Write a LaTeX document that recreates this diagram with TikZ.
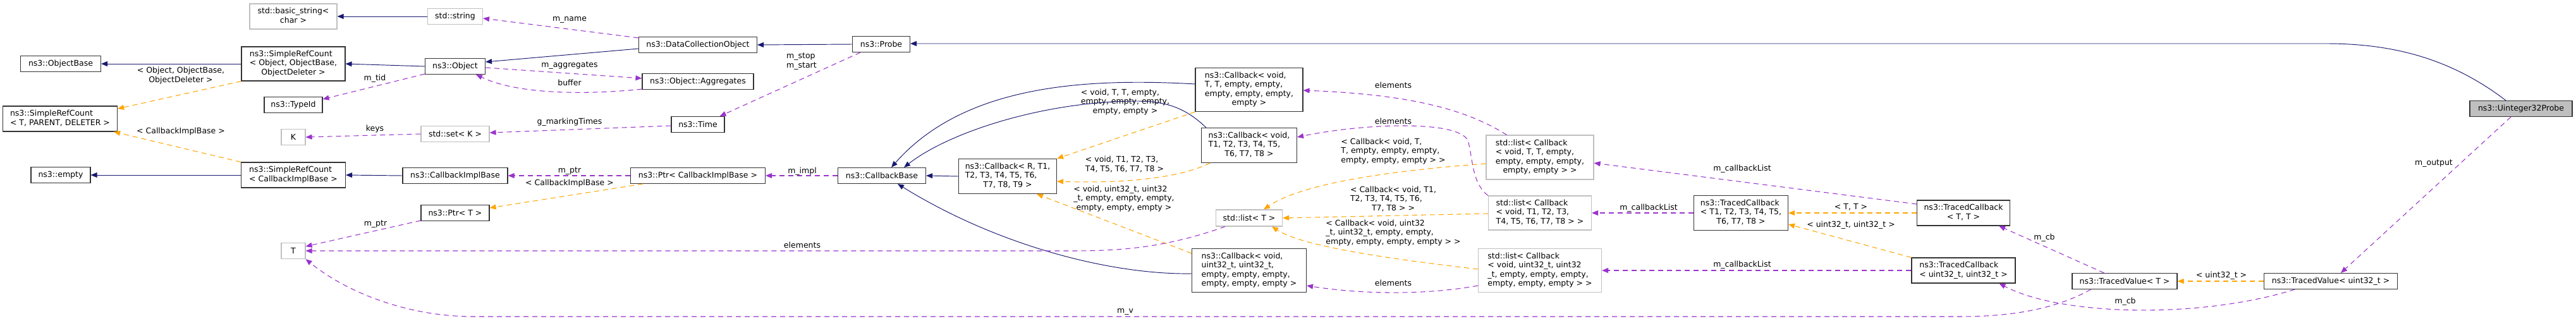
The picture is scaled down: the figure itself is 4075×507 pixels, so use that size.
\documentclass[tikz,border=0pt]{standalone}
\usepackage{fontspec}
\setmainfont{DejaVu Sans}
\usetikzlibrary{arrows.meta,calc}
\definecolor{inhc}{HTML}{191970}
\definecolor{tplc}{HTML}{FFA500}
\definecolor{usec}{HTML}{9A32CD}
\definecolor{grayb}{HTML}{BFBFBF}
\newcommand{\dlab}[2]{\begin{tabular}{@{}l@{}}#1\\\multicolumn{1}{@{}c@{}}{#2}\end{tabular}}
\begin{document}
\begin{tikzpicture}[x=1pt,y=-1pt,
  every node/.style={font=\fontsize{12.5pt}{14.3pt}\selectfont, inner sep=0pt},
  cbox/.style args={#1/#2}{draw=black!80, fill=white, line width=1.1pt, minimum width=#1pt, minimum height=#2pt},
  gbox/.style args={#1/#2}{draw=grayb, fill=white, line width=1.1pt, minimum width=#1pt, minimum height=#2pt},
  tipf/.style={-{Triangle[length=10pt,width=8pt]}},
  inh/.style={draw=inhc, line width=0.95pt, tipf},
  tpl/.style={draw=tplc, line width=1.05pt, dash pattern=on 8pt off 6pt, tipf},
  use/.style={draw=usec, line width=1.05pt, dash pattern=on 8pt off 6pt, tipf},
  lbl/.style={}
]
\fill[white] (0,0) rectangle (4075,507);
\useasboundingbox (0,0) rectangle (4075,507);

% ---- class nodes
\node[cbox=127/25] (objbase) at (96,101) {ns3::ObjectBase};
\node[cbox=164/54] (srcobj) at (464,101) {\dlab{ns3::SimpleRefCount\\< Object, ObjectBase,}{ObjectDeleter >}};
\node[cbox=92/25] (typeid) at (464,166) {ns3::TypeId};
\node[cbox=181/40] (srctpd) at (95,188) {\dlab{ns3::SimpleRefCount}{< T, PARENT, DELETER >}};
\node[cbox=94/25] (empty) at (96,277) {ns3::empty};
\node[cbox=165/40] (srccib) at (464,277) {\dlab{ns3::SimpleRefCount}{< CallbackImplBase >}};
\node[cbox=95/25] (object) at (720,105) {ns3::Object};
\node[cbox=108/25] (ptrt) at (720,337) {ns3::Ptr< T >};
\node[cbox=166/25] (cib) at (720,278) {ns3::CallbackImplBase};
\node[cbox=187/25] (dco) at (1104,71) {ns3::DataCollectionObject};
\node[cbox=176/25] (aggr) at (1104,129) {ns3::Object::Aggregates};
\node[cbox=84/25] (time) at (1104,197) {ns3::Time};
\node[cbox=213/25] (ptrcib) at (1104,278) {ns3::Ptr< CallbackImplBase >};
\node[cbox=91/25] (probe) at (1394,70) {ns3::Probe};
\node[cbox=139/25] (cbbase) at (1395,278) {ns3::CallbackBase};
\node[cbox=155/55] (cbr) at (1594,279) {\dlab{ns3::Callback< R, T1,\\T2, T3, T4, T5, T6,}{T7, T8, T9 >}};
\node[cbox=170/69] (cbvtt) at (1976,142) {\dlab{ns3::Callback< void,\\T, T, empty, empty,\\empty, empty, empty,}{empty >}};
\node[cbox=151/55] (cbv18) at (1976,230) {\dlab{ns3::Callback< void,\\T1, T2, T3, T4, T5,}{T6, T7, T8 >}};
\node[cbox=181/69] (cbvu) at (1976,428) {\dlab{ns3::Callback< void,\\uint32\_t, uint32\_t,\\empty, empty, empty,}{empty, empty, empty >}};
\node[cbox=149/55] (tc18) at (2754,337) {\dlab{ns3::TracedCallback\\< T1, T2, T3, T4, T5,}{T6, T7, T8 >}};
\node[cbox=147/40] (tctt) at (3106,337) {\dlab{ns3::TracedCallback}{< T, T >}};
\node[cbox=164/40] (tcuu) at (3106,428) {\dlab{ns3::TracedCallback}{< uint32\_t, uint32\_t >}};
\node[cbox=166/25] (tvt) at (3361,445) {ns3::TracedValue< T >};
\node[cbox=211/25] (tvu) at (3687,445) {ns3::TracedValue< uint32\_t >};
\node[cbox=162/25, fill=grayb] (u32probe) at (3988,172) {ns3::Uinteger32Probe};

\node[gbox=138/40] (bstr) at (464,26) {\dlab{std::basic\_string<}{char >}};
\node[gbox=87/25] (stdstring) at (720,26) {std::string};
\node[gbox=38/25] (K) at (464,217) {K};
\node[gbox=38/25] (T) at (464,397) {T};
\node[gbox=108/25] (stdset) at (720,212) {std::set< K >};
\node[gbox=105/26] (listt) at (1976,345) {std::list< T >};
\node[gbox=170/70] (listtt) at (2436,249) {\dlab{std::list< Callback\\< void, T, T, empty,\\empty, empty, empty,}{empty, empty > >}};
\node[gbox=163/54] (list18) at (2436,337) {\dlab{std::list< Callback\\< void, T1, T2, T3,}{T4, T5, T6, T7, T8 > >}};
\node[gbox=195/69] (listu) at (2436,428) {\dlab{std::list< Callback\\< void, uint32\_t, uint32\\\_t, empty, empty, empty,}{empty, empty, empty > >}};

% ---- edge labels
\node[lbl] (l1) at (286,120) {\dlab{< Object, ObjectBase,}{ObjectDeleter >}};
\node[lbl] (l2) at (593,124) {m\_tid};
\node[lbl] (l3) at (286,208) {< CallbackImplBase >};
\node[lbl] (l4) at (593,204) {keys};
\node[lbl] (l5) at (594,355) {m\_ptr};
\node[lbl] (l6) at (901,31) {m\_name};
\node[lbl] (l7) at (901,104) {m\_aggregates};
\node[lbl] (l8) at (901,131) {buffer};
\node[lbl] (l9) at (901,193) {g\_markingTimes};
\node[lbl] (l10) at (1268,97) {\dlab{m\_stop}{m\_start}};
\node[lbl] (l11) at (901,271) {m\_ptr};
\node[lbl] (l12) at (901,290) {< CallbackImplBase >};
\node[lbl] (l13) at (1269,271) {m\_impl};
\node[lbl] (l14) at (1269,388) {elements};
\node[lbl] (l15) at (1780,162) {\dlab{< void, T, T, empty,\\empty, empty, empty,}{empty, empty >}};
\node[lbl] (l16) at (1779,261) {\dlab{< void, T1, T2, T3,}{T4, T5, T6, T7, T8 >}};
\node[lbl] (l17) at (1778,315) {\dlab{< void, uint32\_t, uint32\\\_t, empty, empty, empty,}{empty, empty, empty >}};
\node[lbl] (l18) at (1780,493) {m\_v};
\node[lbl] (l19) at (2204,135) {elements};
\node[lbl] (l20) at (2204,192) {elements};
\node[lbl] (l21) at (2204,448) {elements};
\node[lbl] (l22) at (2204,240) {\dlab{< Callback< void, T,\\T, empty, empty, empty,}{empty, empty, empty > >}};
\node[lbl] (l23) at (2204,316) {\dlab{< Callback< void, T1,\\T2, T3, T4, T5, T6,}{T7, T8 > >}};
\node[lbl] (l24) at (2204,369) {\dlab{< Callback< void, uint32\\\_t, uint32\_t, empty, empty,}{empty, empty, empty, empty > >}};
\node[lbl] (l25) at (2756,267) {m\_callbackList};
\node[lbl] (l26) at (2608,329) {m\_callbackList};
\node[lbl] (l27) at (2756,419) {m\_callbackList};
\node[lbl] (l28) at (2928,328) {< T, T >};
\node[lbl] (l29) at (2928,356) {< uint32\_t, uint32\_t >};
\node[lbl] (l30) at (3234,376) {m\_cb};
\node[lbl] (l31) at (3362,477) {m\_cb};
\node[lbl] (l32) at (3514,436) {< uint32\_t >};
\node[lbl] (l33) at (3850,259) {m\_output};

% ---- inheritance
\draw[inh] (srcobj.west) -- (objbase.east);
\draw[inh] (object.west) -- (srcobj.east);
\draw[inh] (stdstring.west) -- (bstr.east);
\draw[inh] ($(dco.west)+(0,6)$) -- ($(object.east)+(0,-7)$);
\draw[inh] (probe.west) -- (dco.east);
\draw[inh] ($(u32probe.north)+(-24,0)$) .. controls (3880,95) and (3790,69) .. (3680,69) -- ($(probe.east)+(0,-1)$);
\draw[inh] (srccib.west) -- (empty.east);
\draw[inh] (cib.west) -- (srccib.east);
\draw[inh] (cbr.west) -- (cbbase.east);
\draw[inh] ($(cbvtt.west)+(0,-9)$) .. controls (1700,122) and (1520,140) .. ($(cbbase.north)+(15,0)$);
\draw[inh] ($(cbv18.north west)+(8,0)$) .. controls (1880,175) and (1850,160) .. (1800,160) .. controls (1650,160) and (1500,210) .. ($(cbbase.north)+(35,0)$);
\draw[inh] ($(cbvu.west)+(0,5)$) .. controls (1760,435) and (1580,390) .. ($(cbbase.south)+(25,0)$);

% ---- template instances
\draw[tpl] (srcobj.south west) -- ($(srctpd.east)+(0,-16)$);
\draw[tpl] (srccib.north west) -- ($(srctpd.south east)+(-6,0)$);
\draw[tpl] ($(ptrcib.south west)+(20,0)$) -- ($(ptrt.east)+(0,-8)$);
\draw[tpl] (cbvtt.south west) -- (cbr.north east);
\draw[tpl] ($(cbv18.south west)+(14,0)$) .. controls (1860,285) and (1760,290) .. ($(cbr.east)+(0,8)$);
\draw[tpl] ($(cbvu.north west)+(0,8)$) -- ($(cbr.south east)+(-32,0)$);
\draw[tpl] ($(listtt.west)+(0,10)$) .. controls (2200,270) and (2060,290) .. ($(listt.north)+(23,0)$);
\draw[tpl] ($(list18.west)+(0,1)$) -- (listt.east);
\draw[tpl] ($(listu.west)+(0,-2)$) .. controls (2200,410) and (2060,390) .. ($(listt.south)+(36,0)$);
\draw[tpl] (tctt.west) -- (tc18.east);
\draw[tpl] (tcuu.north west) -- ($(tc18.east)+(0,18)$);
\draw[tpl] (tvu.west) -- (tvt.east);

% ---- usage
\draw[use] ($(dco.north west)+(0,2)$) -- ($(stdstring.east)+(0,3)$);
\draw[use] ($(object.south west)+(0,-1)$) -- ($(typeid.east)+(0,-9)$);
\draw[use] ($(object.east)+(0,2)$) -- ($(aggr.west)+(0,-5)$);
\draw[use] ($(aggr.west)+(0,12)$) .. controls (930,150) and (820,150) .. ($(object.south east)+(-15,0)$);
\draw[use] (stdset.west) -- (K.east);
\draw[use] ($(time.west)+(0,2)$) -- ($(stdset.east)+(0,-2)$);
\draw[use] ($(probe.south west)+(13,0)$) -- ($(time.north east)+(-8,0)$);
\draw[use] ($(ptrt.south west)+(0,-1)$) -- ($(T.east)+(0,-7)$);
\draw[use] ($(listt.south west)+(15,0)$) .. controls (1850,390) and (1780,397) .. (1700,397) -- (T.east);
\draw[use] (ptrcib.west) -- (cib.east);
\draw[use] (cbbase.west) -- (ptrcib.east);
\draw[use] ($(listtt.north west)+(33,0)$) .. controls (2330,180) and (2250,150) .. ($(cbvtt.east)+(0,1)$);
\draw[use] (list18.north west) .. controls (2328,290) and (2330,250) .. (2322,222) .. controls (2305,190) and (2160,195) .. ($(cbv18.east)+(0,-13)$);
\draw[use] ($(listu.west)+(0,24)$) .. controls (2250,468) and (2150,465) .. ($(cbvu.east)+(0,24)$);
\draw[use] ($(tctt.west)+(0,-14)$) -- ($(listtt.east)+(0,9)$);
\draw[use] (tc18.west) -- (list18.east);
\draw[use] (tcuu.west) -- (listu.east);
\draw[use] ($(tvt.north west)+(51,0)$) -- ($(tctt.south east)+(-18,0)$);
\draw[use] ($(tvu.south west)+(49,0)$) .. controls (3480,505) and (3260,500) .. ($(tcuu.south east)+(-26,0)$);
\draw[use] ($(u32probe.south)+(-16,0)$) -- ($(tvu.north)+(16,0)$);
\draw[use] ($(tvt.south west)+(30,0)$) .. controls (3250,490) and (3180,501) .. (3100,501) -- (750,501) .. controls (640,501) and (545,460) .. (T.south east);
\end{tikzpicture}
\end{document}
